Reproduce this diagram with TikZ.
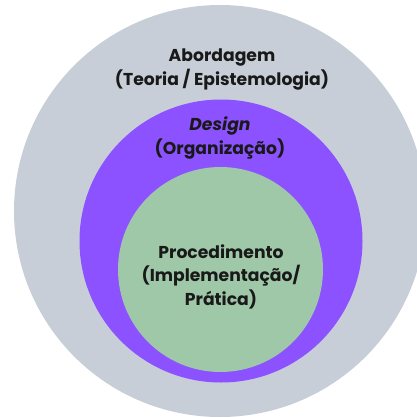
\documentclass[tikz,border=0pt]{standalone}
\usepackage{fontspec}
\setmainfont{Poppins}
\definecolor{outergray}{RGB}{200,206,215}
\definecolor{midpurple}{RGB}{140,82,255}
\definecolor{innergreen}{RGB}{158,200,168}
\begin{document}
\begin{tikzpicture}[x=1pt,y=-1pt,
  lbl/.style={anchor=base,inner sep=0pt,font=\fontsize{17.2}{20}\selectfont\bfseries,text=black!90}]
\useasboundingbox (0,0) rectangle (417,418);
\clip (0,0) rectangle (417,418);
\fill[outergray] (220,211) circle[radius=206];
\fill[midpurple] (221,241) circle[radius=141.5];
\fill[innergreen] (220.5,269.5) circle[radius=102.5];
\node[lbl] (a1) at (222,61.5) {Abordagem};
\node[lbl] (a2) at (222,85) {(Teoria / Epistemologia)};
\node[lbl] (d1) at (220,130.5) {\itshape Design};
\node[lbl] (d2) at (220,154) {(Organização)};
\node[lbl] (p1) at (221,258) {Procedimento};
\node[lbl] (p2) at (221,281.5) {(Implementação/};
\node[lbl] (p3) at (221,305) {Prática)};
\end{tikzpicture}
\end{document}
